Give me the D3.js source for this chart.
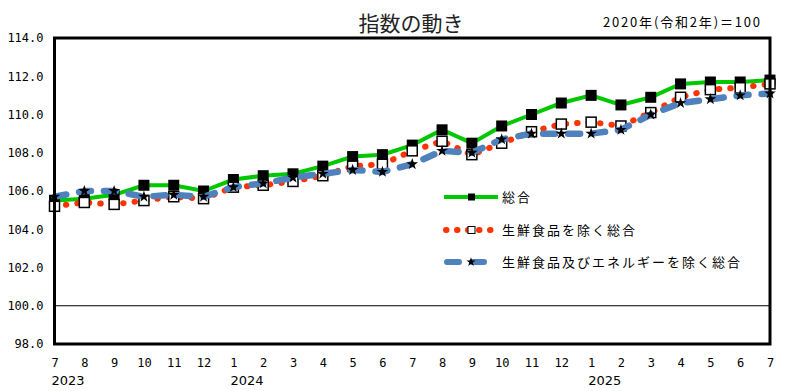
<!DOCTYPE html>
<html>
<head>
<meta charset="utf-8">
<script src="https://d3js.org/d3.v7.min.js"></script>
<style>
body, html {
    margin: 0;
    padding: 0;
    background: #fff;
}
.axis-label {
  font-family: "DejaVu Sans Mono", monospace;
  font-size: 12px;
  fill: #000;
}
.legend-label {
  font-family: "Noto Sans CJK JP", sans-serif;
  font-size: 13px;
  letter-spacing: 2px;
  fill: #000;
}
</style>
</head>

<body>
<div id="chart"></div>
<script>

// 月ラベル (2023年7月〜2025年7月)
var months = ["7","8","9","10","11","12","1","2","3","4","5","6","7","8","9","10","11","12","1","2","3","4","5","6","7"];
var years = [{i: 0, label: "2023"}, {i: 6, label: "2024"}, {i: 18, label: "2025"}];
var yTicks = [98, 100, 102, 104, 106, 108, 110, 112, 114];

// 総合
var sogo = [105.5, 105.6, 105.8, 106.3, 106.3, 106.0, 106.6, 106.8, 106.9, 107.3, 107.8, 107.9, 108.4,
            109.2, 108.5, 109.4, 110.0, 110.6, 111.0, 110.5, 110.9, 111.6, 111.7, 111.7, 111.8];
// 生鮮食品を除く総合
var core = [105.2, 105.4, 105.3, 105.5, 105.7, 105.6, 106.2, 106.3, 106.5, 106.8, 107.3, 107.4, 108.1,
            108.6, 107.9, 108.5, 109.1, 109.5, 109.6, 109.4, 110.1, 110.9, 111.3, 111.4, 111.6];
// 生鮮食品及びエネルギーを除く総合
var coreCore = [105.7, 106.0, 106.0, 105.7, 105.8, 105.7, 106.2, 106.4, 106.7, 106.9, 107.1, 107.0, 107.4,
                108.1, 108.0, 108.7, 109.0, 109.0, 109.0, 109.2, 110.0, 110.6, 110.8, 111.0, 111.1];

var width = 788,
    height = 391,
    plotLeft = 54.5,
    plotRight = 770,
    plotTop = 38,
    plotBottom = 344;

var svg = d3.select('#chart').append('svg')
  .attr('width', width)
  .attr('height', height);

var x = d3.scaleLinear().domain([0, months.length - 1]).range([plotLeft, plotRight]);
var y = d3.scaleLinear().domain([98, 114]).range([plotBottom, plotTop]);

// タイトル
svg.append('text')
  .attr('x', 411).attr('y', 31)
  .attr('text-anchor', 'middle')
  .style('font-family', '"Noto Sans CJK JP", serif')
  .style('font-size', '21px')
  .style('fill', '#222')
  .text('指数の動き');

svg.append('text')
  .attr('x', 603).attr('y', 27)
  .attr('textLength', 157)
  .style('font-family', '"Noto Sans CJK JP", sans-serif')
  .style('font-size', '13px')
  .text('2020年(令和2年)＝100');

// y軸ラベル
var yAxis = d3.axisLeft(y).tickValues(yTicks).tickSize(0).tickPadding(11)
  .tickFormat(d3.format('.1f'));
var gy = svg.append('g')
  .attr('transform', 'translate(' + plotLeft + ',0)')
  .call(yAxis);
gy.select('.domain').remove();
gy.selectAll('text').attr('class', 'axis-label');

// x軸ラベル
var xAxis = d3.axisBottom(x).tickValues(d3.range(months.length)).tickSize(0).tickPadding(14)
  .tickFormat(function(d) { return months[d]; });
var gx = svg.append('g')
  .attr('transform', 'translate(0,' + plotBottom + ')')
  .call(xAxis);
gx.select('.domain').remove();
gx.selectAll('text').attr('class', 'axis-label');

svg.selectAll('text.year')
  .data(years)
  .enter().append('text')
  .attr('class', 'year')
  .attr('x', function(d) { return x(d.i) - 3; })
  .attr('y', 385)
  .style('font-family', '"DejaVu Sans", sans-serif')
  .style('font-size', '13px')
  .text(function(d) { return d.label; });

// 100の線
svg.append('line')
  .attr('x1', plotLeft).attr('x2', plotRight)
  .attr('y1', y(100)).attr('y2', y(100))
  .attr('stroke', '#000')
  .attr('stroke-width', 1.2);

var line = d3.line()
  .x(function(d, i) { return x(i); })
  .y(function(d) { return y(d); });

// 総合
svg.append('path')
  .datum(sogo)
  .attr('d', line)
  .attr('fill', 'none')
  .attr('stroke', '#00c800')
  .attr('stroke-width', 4);
svg.selectAll('rect.sogo')
  .data(sogo)
  .enter().append('rect')
  .attr('class', 'sogo')
  .attr('x', function(d, i) { return x(i) - 5.5; })
  .attr('y', function(d) { return y(d) - 5.5; })
  .attr('width', 11).attr('height', 11)
  .attr('fill', '#000');

// 生鮮食品を除く総合
svg.append('path')
  .datum(core)
  .attr('d', line)
  .attr('fill', 'none')
  .attr('stroke', '#ff3300')
  .attr('stroke-width', 6)
  .attr('stroke-linecap', 'round')
  .attr('stroke-dasharray', '0.5,11');
svg.selectAll('rect.core')
  .data(core)
  .enter().append('rect')
  .attr('class', 'core')
  .attr('x', function(d, i) { return x(i) - 5; })
  .attr('y', function(d) { return y(d) - 5; })
  .attr('width', 10).attr('height', 10)
  .attr('fill', '#fff')
  .attr('stroke', '#000')
  .attr('stroke-width', 1.5);

// 生鮮食品及びエネルギーを除く総合
svg.append('path')
  .datum(coreCore)
  .attr('d', line)
  .attr('fill', 'none')
  .attr('stroke', '#4f81bd')
  .attr('stroke-width', 6.5)
  .attr('stroke-linecap', 'round')
  .attr('stroke-dasharray', '12,13');
var star = d3.symbol().type(d3.symbolStar).size(42);
svg.selectAll('path.cc')
  .data(coreCore)
  .enter().append('path')
  .attr('class', 'cc')
  .attr('d', star)
  .attr('transform', function(d, i) { return 'translate(' + x(i) + ',' + y(d) + ')'; })
  .attr('fill', '#000');

// 枠
svg.append('rect')
  .attr('x', plotLeft).attr('y', plotTop)
  .attr('width', plotRight - plotLeft).attr('height', plotBottom - plotTop)
  .attr('fill', 'none')
  .attr('stroke', '#000')
  .attr('stroke-width', 3);

// 凡例
var legend = svg.append('g');
var ly = [197, 230, 262];

legend.append('line')
  .attr('x1', 444).attr('x2', 498).attr('y1', ly[0]).attr('y2', ly[0])
  .attr('stroke', '#00c800').attr('stroke-width', 4);
legend.append('rect')
  .attr('x', 468).attr('y', ly[0] - 3.5).attr('width', 7).attr('height', 7)
  .attr('fill', '#000');

legend.append('line')
  .attr('x1', 446).attr('x2', 498).attr('y1', ly[1]).attr('y2', ly[1])
  .attr('stroke', '#ff3300').attr('stroke-width', 6)
  .attr('stroke-linecap', 'round').attr('stroke-dasharray', '0.5,10.5');
legend.append('rect')
  .attr('x', 468).attr('y', ly[1] - 3.5).attr('width', 7).attr('height', 7)
  .attr('fill', '#fff').attr('stroke', '#000').attr('stroke-width', 1);

legend.append('line')
  .attr('x1', 447).attr('x2', 496).attr('y1', ly[2]).attr('y2', ly[2])
  .attr('stroke', '#4f81bd').attr('stroke-width', 6)
  .attr('stroke-linecap', 'round').attr('stroke-dasharray', '12,13');
legend.append('path')
  .attr('d', d3.symbol().type(d3.symbolStar).size(26))
  .attr('transform', 'translate(471,' + ly[2] + ')')
  .attr('fill', '#000');

var labels = ['総合', '生鮮食品を除く総合', '生鮮食品及びエネルギーを除く総合'];
legend.selectAll('text')
  .data(labels)
  .enter().append('text')
  .attr('class', 'legend-label')
  .attr('x', 502)
  .attr('y', function(d, i) { return ly[i] + 5; })
  .text(function(d) { return d; });

</script>

</body>

</html>
